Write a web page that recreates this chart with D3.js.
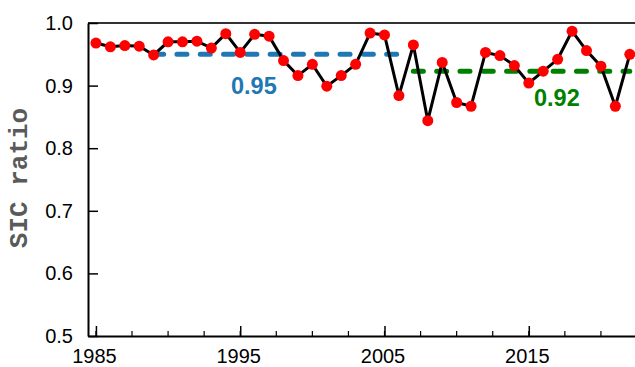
<!DOCTYPE html>
<html>
<head>
<meta charset="utf-8">
<script src="https://cdn.jsdelivr.net/npm/d3@7"></script>
<style>
body{margin:0;background:#fff;}
.tick text{font-family:"Liberation Sans",Arial,sans-serif;font-size:20px;fill:#000;}
</style>
</head>
<body>
<svg id="chart" width="635" height="367"></svg>
<script>
var years=d3.range(1985,2023);
var ratio=[0.968,0.962,0.964,0.963,0.949,0.970,0.970,0.971,0.960,0.983,
    0.953,0.982,0.979,0.940,0.916,0.934,0.899,0.916,0.934,0.984,
    0.981,0.884,0.965,0.844,0.937,0.873,0.867,0.953,0.948,0.932,
    0.904,0.923,0.942,0.987,0.956,0.931,0.867,0.950];
var yTicks=[0.5,0.6,0.7,0.8,0.9,1.0];
var xTicks=[1985,1995,2005,2015];
// period means
var meanPeriods=[1989,2006];
var meanValue1=0.95;
var meanPeriods2=[2007,2022];
var meanValue2=0.923;

var svg=d3.select("#chart");
var pLeft=88,pRight=637,pTop=23,pBottom=336;

var x=d3.scaleLinear().domain([1984.45,2022.5]).range([pLeft,pRight]);
var y=d3.scaleLinear().domain([0.5,1.0]).range([pBottom,pTop]);

// top spine
svg.append("line")
    .attr("x1",pLeft).attr("x2",635)
    .attr("y1",pTop).attr("y2",pTop)
    .attr("stroke","#333").attr("stroke-width",2);

// minor x ticks
var minor=d3.range(1985,2023,2.5);
svg.append("g").selectAll("line")
    .data(minor)
    .enter().append("line")
    .attr("x1",function(d){return x(d);})
    .attr("x2",function(d){return x(d);})
    .attr("y1",pBottom).attr("y2",pBottom-5)
    .attr("stroke","#000").attr("stroke-width",1.2);

var xAxis=svg.append("g")
    .attr("transform","translate(0,"+pBottom+")")
    .call(d3.axisBottom(x).tickValues(xTicks).tickFormat(d3.format("d")).tickSizeInner(-10).tickSizeOuter(0).tickPadding(13));
xAxis.select(".domain").attr("stroke","#000").attr("stroke-width",2);
xAxis.selectAll(".tick line").attr("stroke-width",1.5);
xAxis.selectAll(".tick text").attr("dx",-2);

var yAxis=svg.append("g")
    .attr("transform","translate("+pLeft+",0)")
    .call(d3.axisLeft(y).tickValues(yTicks).tickFormat(d3.format(".1f")).tickSizeInner(-10).tickSizeOuter(0).tickPadding(15));
yAxis.select(".domain").attr("stroke","#000").attr("stroke-width",2);
yAxis.selectAll(".tick line").attr("stroke-width",1.5);

// y label
svg.append("text")
    .attr("transform","translate(27,178) rotate(-90)")
    .attr("text-anchor","middle")
    .style("font-family","'Liberation Mono','DejaVu Sans Mono',monospace")
    .style("font-weight","bold")
    .style("font-size","26px")
    .style("fill","#5a5a5a")
    .text("SIC ratio");

// mean lines
svg.append("line")
    .attr("x1",x(meanPeriods[0])).attr("x2",x(meanPeriods[1]))
    .attr("y1",y(meanValue1)).attr("y2",y(meanValue1))
    .attr("stroke","#1f77b4").attr("stroke-width",5)
    .attr("stroke-linecap","round").attr("stroke-dasharray","10,13.3");
svg.append("line")
    .attr("x1",x(meanPeriods2[0])).attr("x2",x(meanPeriods2[1]))
    .attr("y1",y(meanValue2)).attr("y2",y(meanValue2))
    .attr("stroke","#008000").attr("stroke-width",5)
    .attr("stroke-linecap","round").attr("stroke-dasharray","10,13.3");

// data line
var line=d3.line()
    .x(function(d,i){return x(years[i]);})
    .y(function(d){return y(d);});
svg.append("path")
    .datum(ratio)
    .attr("d",line)
    .attr("fill","none")
    .attr("stroke","#000")
    .attr("stroke-width",3);

svg.append("g").selectAll("circle")
    .data(ratio)
    .enter().append("circle")
    .attr("cx",function(d,i){return x(years[i]);})
    .attr("cy",function(d){return y(d);})
    .attr("r",5.5)
    .attr("fill","#ff0000");

// labels
svg.append("text")
    .attr("x",231).attr("y",94)
    .style("font-family","'Liberation Sans',Arial,sans-serif")
    .style("font-weight","bold").style("font-size","23.5px")
    .style("fill","#1f77b4")
    .text("0.95");
svg.append("text")
    .attr("x",534).attr("y",106)
    .style("font-family","'Liberation Sans',Arial,sans-serif")
    .style("font-weight","bold").style("font-size","23.5px")
    .style("fill","#008000")
    .text("0.92");
</script>
</body>
</html>
